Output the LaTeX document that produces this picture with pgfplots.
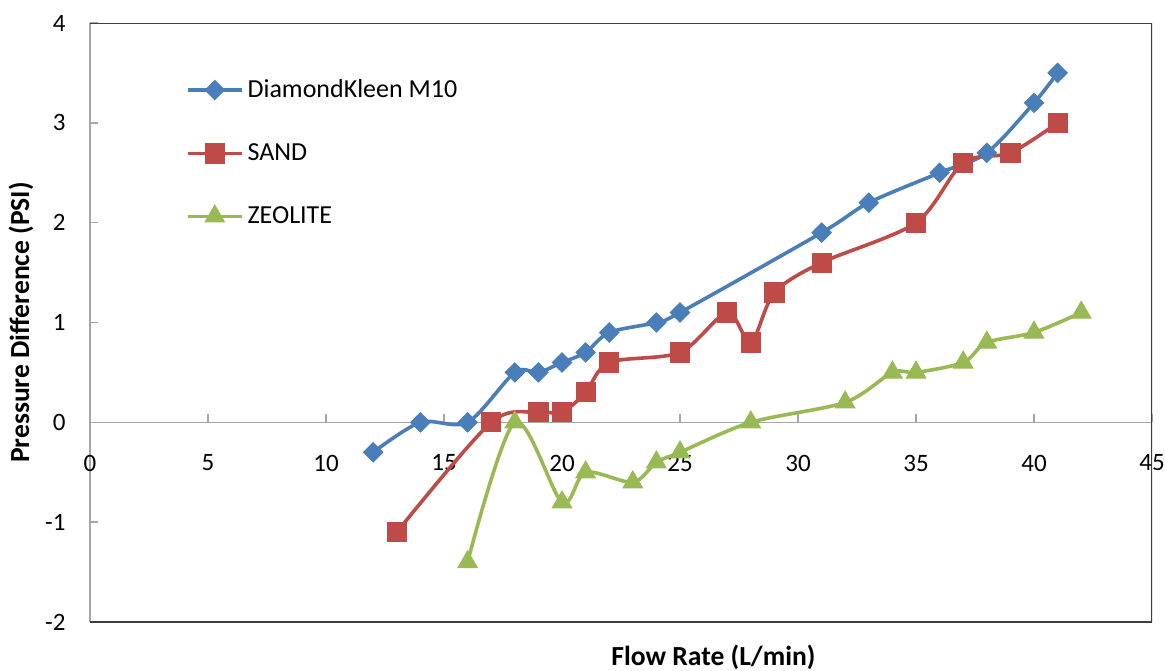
\documentclass[border=0pt]{standalone}
\usepackage{fontspec}
\setmainfont{Carlito}
\usepackage{pgfplots}
\pgfplotsset{compat=1.18}

\definecolor{seriesBlue}{HTML}{4A7EBB}
\definecolor{seriesRed}{HTML}{BE4B48}
\definecolor{seriesGreen}{HTML}{98B954}
\definecolor{axisGray}{HTML}{A6A6A6}
\definecolor{frameGray}{HTML}{3F3F3F}

\begin{document}
\begin{tikzpicture}
\begin{axis}[
  at={(45pt,24pt)}, anchor=south west,
  scale only axis, width=531pt, height=299.5pt,
  xmin=0, xmax=45, ymin=-2, ymax=4,
  axis x line=middle, axis y line=left,
  axis line style={-, axisGray, line width=0.8pt},
  hide obscured x ticks=false, hide obscured y ticks=false,
  xtick={5,10,...,45}, ytick={-2,-1,...,4},
  extra x ticks={0}, extra x tick labels={0},
  tick align=inside, major tick length=4pt,
  tick style={axisGray, line width=0.8pt},
  /pgf/number format/assume math mode=true,
  xticklabel style={font=\fontsize{12.5}{14}\selectfont, anchor=north, yshift=-12.7pt},
  yticklabel style={font=\fontsize{12.5}{14}\selectfont, anchor=east, xshift=-8.7pt},
  xlabel={Flow Rate (L/min)},
  ylabel={Pressure Difference (PSI)},
  xlabel style={font=\fontsize{13.8}{16}\selectfont\bfseries, at={(axis description cs:0.587,0)}, anchor=north, yshift=-8pt},
  ylabel style={font=\fontsize{13.8}{16}\selectfont\bfseries, at={(axis description cs:0,0.5)}, anchor=center, yshift=34.5pt},
  legend style={at={(axis description cs:0.09,0.913)}, anchor=north west, draw=none, fill=none,
    font=\fontsize{13}{15}\selectfont, row sep=17.5pt, inner sep=0pt,
    /tikz/every odd column/.style={column sep=0pt}},
  legend cell align=left,
  legend image code/.code={%
    \draw[mark repeat=2, mark phase=2, #1] plot coordinates {(0pt,0pt) (13.5pt,0pt) (27pt,0pt)};},
  every axis plot/.append style={line width=1.8pt, smooth, tension=0.5},
]
% plot area border (top, right, bottom)
\draw[frameGray, line width=0.9pt] (rel axis cs:0,1) -- (rel axis cs:1,1) -- (rel axis cs:1,0) -- (rel axis cs:0,0);

\addplot[seriesBlue, mark=square*, mark size=3.4pt,
  mark options={solid, rotate=45, fill=seriesBlue, draw=seriesBlue, line width=0.5pt}]
  coordinates {
  (12,-0.3) (14,0) (16,0) (18,0.5) (19,0.5) (20,0.6) (21,0.7) (22,0.9)
  (24,1.0) (25,1.1) (31,1.9) (33,2.2) (36,2.5) (38,2.7) (40,3.2) (41,3.5)
  };
\addlegendentry{DiamondKleen M10}

\addplot[seriesRed, mark=square*, mark size=4.8pt,
  mark options={solid, fill=seriesRed, draw=seriesRed, line width=0.5pt}]
  coordinates {
  (13,-1.1) (17,0) (19,0.1) (20,0.1) (21,0.3) (22,0.6) (25,0.7) (27,1.1)
  (28,0.8) (29,1.3) (31,1.6) (35,2.0) (37,2.6) (39,2.7) (41,3.0)
  };
\addlegendentry{SAND}

\addplot[seriesGreen, mark=triangle*, mark size=5.6pt,
  mark options={solid, fill=seriesGreen, draw=seriesGreen, line width=0.5pt}]
  coordinates {
  (16,-1.4) (18,0) (20,-0.8) (21,-0.5) (23,-0.6) (24,-0.4) (25,-0.3) (28,0)
  (32,0.2) (34,0.5) (35,0.5) (37,0.6) (38,0.8) (40,0.9) (42,1.1)
  };
\addlegendentry{ZEOLITE}
\end{axis}
\pgfresetboundingbox
\path (0,0) rectangle (582.5pt,335pt);
\end{tikzpicture}
\end{document}
